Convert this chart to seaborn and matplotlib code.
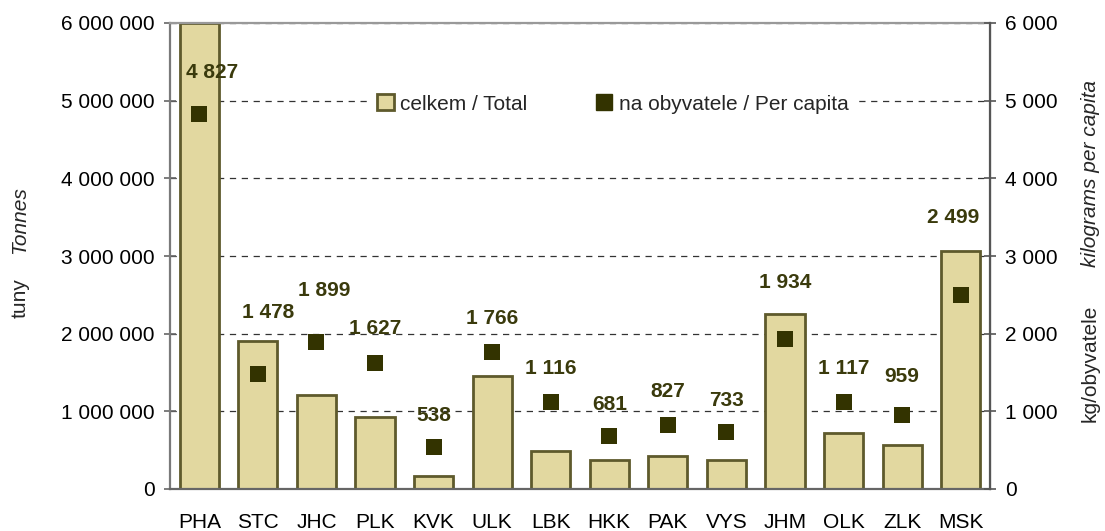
import numpy as np
import pandas as pd
import matplotlib
matplotlib.use('Agg')
import matplotlib.pyplot as plt
import seaborn as sns
from matplotlib.ticker import FuncFormatter, FixedLocator
from matplotlib.patches import Patch
from matplotlib.lines import Line2D

# data
regions = ['PHA', 'STC', 'JHC', 'PLK', 'KVK', 'ULK', 'LBK', 'HKK', 'PAK', 'VYS', 'JHM', 'OLK', 'ZLK', 'MSK']
total_t = [6000000, 1900000, 1210000, 930000, 163000, 1455000, 490000, 372000, 425000, 372000, 2250000, 717000, 566000, 3070000]
per_capita = [4827, 1478, 1899, 1627, 538, 1766, 1116, 681, 827, 733, 1934, 1117, 959, 2499]
# manual label nudges (px) as in the original
label_dx = [13, 10, 8, 0, 0, 0, 0, 0, 0, 0, 0, 0, 0, -8]
label_dy = [42, 62, 51, 34, 32, 33, 34, 32, 33, 32, 56, 34, 38, 77]

df = pd.DataFrame({'region': regions, 'total': total_t, 'pc': per_capita})

sns.set_style('white')
plt.rcParams['font.family'] = ['Liberation Sans', 'DejaVu Sans']

bar_fill = '#E2D8A0'
bar_edge = '#5E5A2C'
mark_col = '#333300'
lab_col = '#3A3A0C'
fs = 15

fig = plt.figure(figsize=(11.05, 5.31), dpi=100)
ax = fig.add_axes([170/1105, 1-489/531, 820/1105, 466/531])

sns.barplot(data=df, x='region', y='total', color=bar_fill, edgecolor=bar_edge,
            linewidth=2, width=0.67, saturation=1, ax=ax)
ax.set_ylim(0, 6000000)
ax.set_xlim(-0.5, len(regions) - 0.5)
ax.set_xlabel('')
ax.set_ylabel('')
ax.yaxis.set_major_locator(FixedLocator(np.arange(0, 6000001, 1000000)))
ax.yaxis.set_major_formatter(FuncFormatter(lambda v, p: f'{v:,.0f}'.replace(',', ' ')))
ax.set_axisbelow(True)
ax.yaxis.grid(True, color='#333333', linestyle=(0, (5, 4.5)), linewidth=0.9)
ax.xaxis.grid(False)

ax.tick_params(axis='x', which='major', length=0, labelsize=fs, pad=17, colors='black')
ax.set_xticks(np.arange(-0.5, len(regions), 1.0), minor=True)
ax.tick_params(axis='x', which='minor', length=10, direction='inout', color='#777777', width=1.2)
ax.tick_params(axis='y', length=8, direction='inout', color='#666666', width=1.2, labelsize=fs, pad=7,
               labelcolor='black')

ax.spines['left'].set_color('#7a7a7a')
ax.spines['bottom'].set_color('#666666')
ax.spines['top'].set_color('#999999')
for s in ['left', 'bottom', 'top']:
    ax.spines[s].set_linewidth(1.6)

ax2 = ax.twinx()
sns.scatterplot(x=np.arange(len(regions)), y=per_capita, marker='s', s=140,
                color=mark_col, edgecolor=mark_col, linewidth=0, ax=ax2, zorder=5)
ax2.set_ylim(0, 6000)
ax2.yaxis.set_major_locator(FixedLocator(np.arange(0, 6001, 1000)))
ax2.yaxis.set_major_formatter(FuncFormatter(lambda v, p: f'{v:,.0f}'.replace(',', ' ')))
ax2.tick_params(axis='y', length=8, direction='inout', color='#555555', width=1.2, labelsize=fs, pad=7,
                labelcolor='black')
ax2.spines['right'].set_color('#555555')
ax2.spines['right'].set_linewidth(1.6)
for s in ['left', 'bottom', 'top']:
    ax2.spines[s].set_visible(False)

for i, v in enumerate(per_capita):
    ax2.annotate(f'{v:,}'.replace(',', ' '), (i, v), xytext=(label_dx[i], label_dy[i]),
                 textcoords='offset pixels', ha='center', va='center',
                 fontsize=fs, fontweight='bold', color=lab_col, zorder=6)

handles = [Patch(facecolor=bar_fill, edgecolor=bar_edge, linewidth=2),
           Line2D([], [], marker='s', linestyle='none', color=mark_col, markersize=11)]
leg = ax2.legend(handles, ['celkem / Total', 'na obyvatele / Per capita'], loc='center',
                 bbox_to_anchor=(0.54, 0.826), ncol=2, frameon=True, fontsize=fs,
                 handlelength=0.8, handleheight=0.8, handletextpad=0.3, columnspacing=3.3,
                 borderpad=0.3, fancybox=False)
leg.get_frame().set_facecolor('white')
leg.get_frame().set_edgecolor('none')
leg.get_frame().set_alpha(1)

fig.text(20/1105, 1-298/531, 'tuny', rotation=90, ha='center', va='center', fontsize=fs)
fig.text(20/1105, 1-220/531, 'Tonnes', rotation=90, ha='center', va='center', fontsize=fs, style='italic')
fig.text(1090/1105, 1-363/531, 'kg/obyvatele', rotation=90, ha='center', va='center', fontsize=fs)
fig.text(1090/1105, 1-173/531, 'kilograms per capita', rotation=90, ha='center', va='center', fontsize=fs, style='italic')

fig.savefig('out.png', dpi=100)
